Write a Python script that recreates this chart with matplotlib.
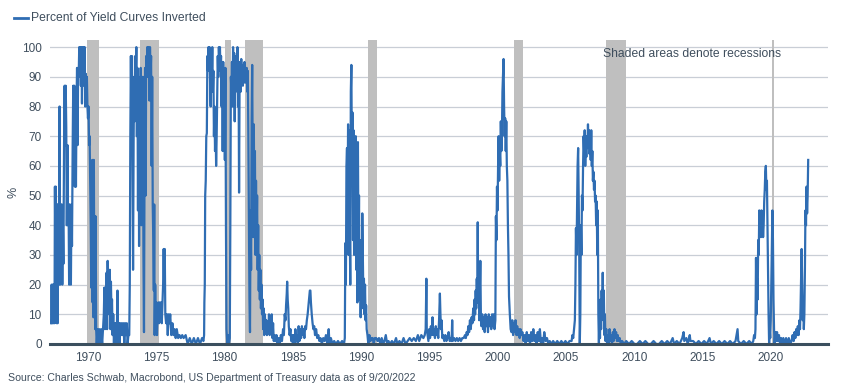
import matplotlib
matplotlib.use("Agg")
import matplotlib.pyplot as plt
import numpy as np

# percent of yield curves inverted as (decimal year, %)
era_1967 = [(1967.30, 7), (1967.34, 20), (1967.38, 7), (1967.42, 20), (1967.46, 7), (1967.50, 20), (1967.55, 7),
	(1967.58, 53), (1967.62, 27), (1967.65, 53), (1967.68, 20), (1967.71, 7), (1967.74, 47), (1967.78, 7),
	(1967.82, 47), (1967.86, 20), (1967.92, 80), (1967.96, 20), (1968.00, 47), (1968.04, 27), (1968.08, 47),
	(1968.12, 20), (1968.16, 40), (1968.20, 27), (1968.25, 67), (1968.29, 87), (1968.33, 67), (1968.37, 87),
	(1968.41, 73), (1968.45, 40), (1968.50, 67), (1968.54, 40), (1968.58, 47), (1968.62, 20), (1968.66, 47),
	(1968.70, 33), (1968.75, 20), (1968.79, 47), (1968.83, 33), (1968.88, 67), (1968.92, 87), (1968.96, 73),
	(1969.00, 87), (1969.04, 53), (1969.08, 80), (1969.12, 53), (1969.16, 80), (1969.20, 93), (1969.24, 67),
	(1969.28, 93), (1969.32, 90), (1969.36, 100), (1969.40, 93), (1969.44, 100), (1969.48, 87), (1969.52, 100),
	(1969.56, 81), (1969.60, 100), (1969.64, 87), (1969.68, 100), (1969.72, 93), (1969.76, 100), (1969.80, 80),
	(1969.84, 91), (1969.88, 87), (1969.92, 90), (1969.96, 80), (1970.00, 76), (1970.04, 80), (1970.08, 67),
	(1970.12, 70), (1970.16, 55), (1970.20, 40), (1970.24, 19), (1970.28, 30), (1970.31, 62), (1970.34, 14),
	(1970.37, 62), (1970.40, 9), (1970.43, 62), (1970.46, 20), (1970.50, 43), (1970.53, 5), (1970.56, 43),
	(1970.60, 5), (1970.64, 0), (1970.70, 5), (1970.76, 0), (1970.82, 5), (1970.90, 0), (1970.96, 5),
	(1971.04, 0), (1971.10, 5)]

era_1971 = [(1971.16, 10), (1971.20, 19), (1971.24, 5), (1971.28, 19), (1971.32, 10), (1971.36, 24), (1971.40, 5),
	(1971.44, 28), (1971.48, 15), (1971.52, 24), (1971.56, 10), (1971.60, 25), (1971.64, 5), (1971.68, 21),
	(1971.72, 10), (1971.76, 15), (1971.80, 3), (1971.85, 10), (1971.90, 0), (1971.95, 7), (1972.00, 3),
	(1972.05, 7), (1972.10, 0), (1972.16, 18), (1972.20, 3), (1972.26, 7), (1972.30, 0), (1972.36, 7),
	(1972.42, 3), (1972.48, 7), (1972.54, 3), (1972.60, 7), (1972.66, 0), (1972.72, 7), (1972.78, 3),
	(1972.84, 7), (1972.90, 0), (1972.96, 3), (1973.02, 3)]

era_1973 = [(1973.06, 20), (1973.10, 70), (1973.14, 97), (1973.18, 75), (1973.22, 97), (1973.26, 60), (1973.30, 25),
	(1973.34, 68), (1973.38, 90), (1973.42, 75), (1973.46, 97), (1973.50, 88), (1973.54, 100), (1973.58, 70),
	(1973.62, 93), (1973.66, 45), (1973.70, 90), (1973.74, 33), (1973.78, 85), (1973.82, 55), (1973.86, 93),
	(1973.90, 40), (1973.94, 88), (1973.98, 60), (1974.02, 90), (1974.06, 30), (1974.10, 4), (1974.14, 60),
	(1974.18, 93), (1974.22, 50), (1974.26, 97), (1974.30, 90), (1974.34, 100), (1974.38, 90), (1974.42, 100),
	(1974.46, 93), (1974.50, 82), (1974.54, 100), (1974.58, 90), (1974.62, 97), (1974.66, 60), (1974.70, 90),
	(1974.74, 47), (1974.78, 35), (1974.82, 18), (1974.85, 47), (1974.88, 3), (1974.92, 20), (1974.96, 7),
	(1975.00, 14), (1975.05, 3), (1975.10, 10), (1975.15, 14), (1975.20, 7), (1975.25, 14), (1975.30, 10),
	(1975.35, 14), (1975.40, 7), (1975.45, 14), (1975.50, 20), (1975.54, 32), (1975.58, 20), (1975.62, 32),
	(1975.66, 10), (1975.72, 7), (1975.78, 10), (1975.84, 3), (1975.90, 10), (1975.96, 7), (1976.02, 10),
	(1976.10, 3), (1976.18, 7), (1976.26, 3), (1976.34, 5), (1976.42, 2), (1976.50, 5), (1976.60, 2),
	(1976.70, 3), (1976.80, 2), (1976.90, 3), (1977.00, 2), (1977.15, 3), (1977.30, 0), (1977.45, 2),
	(1977.60, 0), (1977.75, 2), (1977.90, 0), (1978.05, 2), (1978.20, 0), (1978.35, 2), (1978.45, 1)]

era_1978 = [(1978.50, 3), (1978.52, 14), (1978.55, 20), (1978.58, 50), (1978.62, 55), (1978.66, 70), (1978.70, 71),
	(1978.74, 97), (1978.78, 92), (1978.82, 100), (1978.86, 93), (1978.90, 100), (1978.94, 88), (1978.98, 80),
	(1979.02, 97), (1979.06, 90), (1979.10, 100), (1979.14, 85), (1979.18, 92), (1979.22, 70), (1979.26, 80),
	(1979.30, 65), (1979.34, 75), (1979.38, 60), (1979.42, 70), (1979.46, 85), (1979.50, 97), (1979.54, 90),
	(1979.58, 100), (1979.62, 95), (1979.66, 100), (1979.70, 92), (1979.74, 97), (1979.78, 80), (1979.82, 95),
	(1979.86, 65), (1979.90, 95), (1979.94, 75), (1979.98, 92), (1980.02, 62), (1980.06, 93), (1980.10, 40),
	(1980.14, 5), (1980.20, 0), (1980.26, 3), (1980.32, 0), (1980.38, 2), (1980.42, 40), (1980.46, 90),
	(1980.50, 85), (1980.54, 95), (1980.58, 80), (1980.62, 100), (1980.66, 88), (1980.70, 98), (1980.74, 75),
	(1980.78, 95), (1980.82, 85), (1980.86, 97), (1980.90, 90), (1980.94, 100), (1980.98, 80), (1981.02, 95),
	(1981.06, 51), (1981.10, 90), (1981.14, 95), (1981.18, 85), (1981.22, 96), (1981.26, 88), (1981.30, 94),
	(1981.34, 87), (1981.38, 93), (1981.42, 90), (1981.46, 95), (1981.50, 88), (1981.54, 93), (1981.58, 90),
	(1981.62, 93), (1981.66, 85), (1981.70, 92), (1981.74, 70), (1981.78, 40), (1981.82, 15), (1981.86, 4),
	(1981.90, 45), (1981.94, 25), (1981.98, 75), (1982.02, 94), (1982.06, 60), (1982.10, 36), (1982.14, 74),
	(1982.18, 40), (1982.22, 65), (1982.26, 30), (1982.30, 55), (1982.34, 36), (1982.38, 50), (1982.42, 25),
	(1982.46, 40), (1982.50, 18), (1982.54, 30), (1982.58, 15), (1982.62, 25), (1982.66, 12), (1982.70, 20),
	(1982.74, 10), (1982.78, 15), (1982.82, 5), (1982.86, 12), (1982.90, 3), (1982.95, 10), (1983.00, 5),
	(1983.05, 8), (1983.10, 3), (1983.15, 7), (1983.20, 5), (1983.25, 10), (1983.30, 3), (1983.35, 7),
	(1983.40, 5), (1983.45, 10), (1983.50, 2), (1983.55, 7), (1983.60, 1), (1983.66, 3), (1983.72, 1),
	(1983.80, 3), (1983.88, 0), (1983.96, 2), (1984.04, 0), (1984.12, 3), (1984.20, 1), (1984.28, 5),
	(1984.34, 3), (1984.40, 10), (1984.46, 8), (1984.50, 13), (1984.55, 17), (1984.58, 21), (1984.62, 15),
	(1984.66, 12), (1984.70, 6), (1984.76, 3), (1984.82, 5), (1984.88, 1), (1984.94, 3), (1985.00, 0)]

era_1985 = [(1985.06, 3), (1985.12, 0), (1985.18, 5), (1985.24, 1), (1985.30, 3), (1985.36, 0), (1985.42, 6),
	(1985.48, 1), (1985.54, 5), (1985.60, 2), (1985.66, 6), (1985.72, 3), (1985.78, 5), (1985.84, 2),
	(1985.90, 6), (1985.96, 5), (1986.02, 8), (1986.08, 10), (1986.14, 13), (1986.20, 16), (1986.24, 18),
	(1986.28, 18), (1986.32, 14), (1986.38, 10), (1986.44, 7), (1986.50, 5), (1986.56, 6), (1986.62, 3),
	(1986.70, 5), (1986.78, 2), (1986.86, 3), (1986.94, 1), (1987.02, 2), (1987.12, 0), (1987.22, 2),
	(1987.32, 1), (1987.42, 3), (1987.52, 0), (1987.62, 5), (1987.68, 0), (1987.78, 2), (1987.90, 0),
	(1988.02, 1), (1988.15, 0), (1988.30, 1), (1988.45, 0), (1988.60, 1), (1988.74, 0)]

era_1988 = [(1988.80, 2), (1988.84, 34), (1988.88, 20), (1988.92, 60), (1988.96, 66), (1989.00, 45), (1989.04, 74),
	(1989.08, 30), (1989.12, 72), (1989.16, 40), (1989.20, 20), (1989.24, 85), (1989.28, 94), (1989.32, 60),
	(1989.36, 78), (1989.40, 35), (1989.44, 72), (1989.48, 30), (1989.52, 65), (1989.56, 40), (1989.60, 70),
	(1989.64, 25), (1989.68, 60), (1989.72, 14), (1989.76, 68), (1989.80, 30), (1989.84, 50), (1989.88, 15),
	(1989.92, 35), (1989.96, 9), (1990.00, 25), (1990.04, 12), (1990.08, 44), (1990.12, 30), (1990.16, 15),
	(1990.20, 22), (1990.24, 10), (1990.28, 20), (1990.32, 8), (1990.36, 13), (1990.40, 5), (1990.46, 3),
	(1990.52, 0), (1990.60, 3), (1990.68, 1), (1990.76, 2), (1990.84, 2), (1990.92, 0), (1991.00, 2),
	(1991.10, 2), (1991.20, 1), (1991.30, 2), (1991.40, 0), (1991.50, 2), (1991.60, 0), (1991.70, 1),
	(1991.80, 3), (1991.90, 0), (1992.00, 1), (1992.10, 0), (1992.25, 1), (1992.40, 0), (1992.55, 2),
	(1992.65, 0), (1992.80, 1), (1992.95, 0), (1993.10, 2), (1993.25, 0)]

era_1993 = [(1993.40, 1), (1993.55, 2), (1993.70, 1), (1993.85, 2), (1994.00, 1), (1994.15, 3), (1994.25, 1),
	(1994.40, 3), (1994.55, 2), (1994.65, 3), (1994.72, 5), (1994.77, 22), (1994.80, 5), (1994.86, 3),
	(1994.92, 1), (1994.98, 5), (1995.04, 2), (1995.10, 6), (1995.16, 3), (1995.22, 9), (1995.28, 3),
	(1995.34, 5), (1995.40, 2), (1995.46, 6), (1995.52, 3), (1995.58, 5), (1995.64, 2), (1995.70, 8),
	(1995.76, 17), (1995.80, 10), (1995.84, 5), (1995.88, 8), (1995.94, 2), (1996.00, 3), (1996.08, 1),
	(1996.16, 3), (1996.24, 1), (1996.32, 2), (1996.40, 4), (1996.48, 1), (1996.56, 2), (1996.62, 1),
	(1996.66, 8), (1996.70, 1), (1996.80, 2), (1996.90, 1), (1997.00, 2), (1997.10, 1), (1997.20, 2),
	(1997.30, 1), (1997.40, 2), (1997.50, 2)]

era_1997 = [(1997.60, 3), (1997.66, 2), (1997.72, 4), (1997.78, 3), (1997.84, 6), (1997.90, 4), (1997.96, 8),
	(1998.02, 5), (1998.08, 9), (1998.14, 7), (1998.20, 12), (1998.26, 8), (1998.30, 15), (1998.34, 10),
	(1998.38, 18), (1998.42, 12), (1998.46, 22), (1998.50, 14), (1998.53, 41), (1998.56, 15), (1998.60, 25),
	(1998.64, 8), (1998.68, 18), (1998.72, 28), (1998.76, 10), (1998.80, 6), (1998.86, 10), (1998.92, 5),
	(1998.98, 9), (1999.04, 4), (1999.10, 10), (1999.16, 6), (1999.22, 9), (1999.28, 4), (1999.34, 10),
	(1999.40, 6), (1999.46, 9), (1999.52, 5), (1999.58, 10), (1999.64, 6), (1999.70, 10), (1999.76, 5),
	(1999.82, 8), (1999.86, 43), (1999.90, 35), (1999.94, 53), (1999.98, 45), (2000.02, 60), (2000.06, 70),
	(2000.10, 55), (2000.14, 65), (2000.18, 60), (2000.22, 75), (2000.26, 65), (2000.30, 70), (2000.34, 85),
	(2000.38, 90), (2000.42, 96), (2000.46, 80), (2000.50, 70), (2000.54, 76), (2000.58, 65), (2000.62, 75),
	(2000.66, 60), (2000.70, 55), (2000.74, 40), (2000.78, 30), (2000.82, 16), (2000.88, 10), (2000.94, 5),
	(2001.00, 4), (2001.06, 8), (2001.12, 3), (2001.18, 7), (2001.24, 4), (2001.30, 8), (2001.36, 3),
	(2001.42, 6), (2001.48, 3), (2001.54, 5), (2001.60, 2), (2001.66, 5), (2001.72, 3), (2001.80, 4),
	(2001.88, 1), (2001.96, 3), (2002.04, 0), (2002.12, 4), (2002.20, 1), (2002.28, 3), (2002.36, 0),
	(2002.44, 4), (2002.52, 1), (2002.60, 5), (2002.68, 1), (2002.76, 3), (2002.84, 0), (2002.92, 4),
	(2003.00, 1), (2003.08, 5), (2003.16, 0), (2003.24, 2), (2003.32, 0), (2003.40, 4), (2003.50, 1),
	(2003.60, 2), (2003.70, 0), (2003.80, 1), (2003.92, 0), (2004.05, 1), (2004.20, 0), (2004.35, 1),
	(2004.50, 0), (2004.65, 1), (2004.80, 0), (2004.95, 1), (2005.10, 0), (2005.25, 1)]

era_2005 = [(2005.40, 1), (2005.46, 3), (2005.52, 2), (2005.58, 5), (2005.64, 8), (2005.68, 20), (2005.72, 39),
	(2005.76, 30), (2005.80, 45), (2005.84, 60), (2005.88, 66), (2005.92, 50), (2005.96, 30), (2006.00, 0),
	(2006.04, 10), (2006.08, 40), (2006.12, 30), (2006.16, 50), (2006.20, 45), (2006.24, 60), (2006.28, 70),
	(2006.32, 65), (2006.36, 72), (2006.40, 60), (2006.44, 68), (2006.48, 63), (2006.52, 70), (2006.56, 66),
	(2006.60, 74), (2006.64, 68), (2006.68, 72), (2006.72, 64), (2006.76, 70), (2006.80, 62), (2006.84, 72),
	(2006.88, 60), (2006.92, 65), (2006.96, 55), (2007.00, 58), (2007.04, 52), (2007.08, 55), (2007.12, 48),
	(2007.16, 50), (2007.20, 40), (2007.24, 48), (2007.28, 30), (2007.32, 45), (2007.36, 10), (2007.40, 0),
	(2007.44, 10), (2007.48, 2), (2007.52, 15), (2007.56, 5), (2007.60, 18), (2007.64, 10), (2007.68, 24),
	(2007.72, 8), (2007.76, 18), (2007.80, 3), (2007.84, 10), (2007.88, 1), (2007.94, 5), (2008.00, 0),
	(2008.06, 3), (2008.12, 0), (2008.18, 5), (2008.24, 1), (2008.30, 3), (2008.36, 0), (2008.42, 4),
	(2008.48, 1), (2008.54, 5), (2008.60, 2), (2008.66, 4), (2008.72, 1), (2008.78, 3), (2008.84, 1),
	(2008.92, 2), (2009.00, 0), (2009.10, 1), (2009.25, 0)]

era_2009 = [(2009.40, 1), (2009.60, 0), (2009.80, 1), (2010.00, 0), (2010.20, 0), (2010.40, 1), (2010.60, 0),
	(2010.80, 1), (2011.00, 0), (2011.20, 0), (2011.40, 1), (2011.60, 0), (2011.80, 0), (2012.00, 1),
	(2012.20, 0), (2012.40, 1), (2012.60, 0), (2012.80, 2), (2012.90, 0), (2013.10, 1), (2013.30, 0),
	(2013.50, 2), (2013.60, 4), (2013.65, 1), (2013.80, 2), (2013.90, 0), (2014.05, 3), (2014.10, 1),
	(2014.30, 1), (2014.50, 0), (2014.70, 1), (2014.90, 0), (2015.10, 1), (2015.30, 0), (2015.50, 2),
	(2015.60, 0), (2015.80, 1), (2016.00, 0), (2016.20, 1), (2016.40, 0), (2016.60, 1), (2016.80, 0),
	(2017.00, 1), (2017.20, 0), (2017.40, 1), (2017.55, 5), (2017.60, 1), (2017.80, 0), (2018.00, 1),
	(2018.20, 0), (2018.40, 1), (2018.60, 0)]

era_2018 = [(2018.70, 1), (2018.76, 3), (2018.82, 2), (2018.86, 5), (2018.90, 29), (2018.94, 10), (2018.98, 22),
	(2019.02, 15), (2019.06, 35), (2019.10, 30), (2019.14, 45), (2019.18, 37), (2019.22, 44), (2019.26, 36),
	(2019.30, 45), (2019.34, 38), (2019.38, 42), (2019.42, 36), (2019.46, 40), (2019.50, 48), (2019.54, 52),
	(2019.58, 58), (2019.62, 60), (2019.66, 52), (2019.70, 55), (2019.74, 40), (2019.78, 25), (2019.82, 10),
	(2019.86, 0), (2019.90, 5), (2019.94, 2), (2019.98, 8), (2020.02, 20), (2020.06, 30), (2020.10, 45),
	(2020.14, 35), (2020.18, 15), (2020.22, 5), (2020.26, 0), (2020.32, 4), (2020.38, 1), (2020.44, 4),
	(2020.50, 1), (2020.58, 3), (2020.66, 0), (2020.74, 2), (2020.82, 0), (2020.90, 2), (2021.00, 0),
	(2021.10, 2), (2021.20, 0), (2021.30, 2), (2021.40, 0), (2021.50, 1), (2021.58, 3), (2021.66, 1),
	(2021.72, 4), (2021.78, 2), (2021.84, 5), (2021.90, 3), (2021.96, 6), (2022.02, 3), (2022.08, 8),
	(2022.12, 5), (2022.16, 12), (2022.20, 22), (2022.24, 32), (2022.28, 20), (2022.32, 8), (2022.36, 15),
	(2022.40, 5), (2022.44, 10), (2022.48, 25), (2022.52, 45), (2022.56, 40), (2022.60, 53), (2022.64, 44),
	(2022.68, 50), (2022.72, 62)]

# US recessions (NBER), decimal years
rec_start = [1969.92, 1973.83, 1980.00, 1981.50, 1990.50, 2001.17, 2007.92, 2020.08]
rec_end = [1970.83, 1975.17, 1980.50, 1982.83, 1991.17, 2001.83, 2009.42, 2020.22]

tick_years = [1970, 1975, 1980, 1985, 1990, 1995, 2000, 2005, 2010, 2015, 2020]

series_label = "Percent of Yield Curves Inverted"
note = "Shaded areas denote recessions"
source = "Source: Charles Schwab, Macrobond, US Department of Treasury data as of 9/20/2022"

LINE = "#2f6db3"
TEXT = "#3f4e5d"
GRID = "#c9ced6"
SHADE = "#bfbfbf"

plt.rcParams['font.family'] = ['Liberation Sans', 'DejaVu Sans']

pairs = era_1967 + era_1971 + era_1973 + era_1978 + era_1985 + era_1988 + era_1993 + era_1997 + era_2005 + era_2009 + era_2018
years = np.array([p[0] for p in pairs])
pct = np.array([p[1] for p in pairs])

fig = plt.figure(figsize=(8.41, 3.92), dpi=100)
ax = fig.add_axes([50 / 841, 1 - 344 / 392, 778 / 841, 304 / 392])

for s, e in zip(rec_start, rec_end):
	ax.axvspan(s, e, color=SHADE, lw=0, zorder=1)

ax.plot(years, pct, color=LINE, lw=1.6, zorder=3)

ax.set_xlim(1967.22, 2024.17)
ax.set_ylim(0, 102.4)
ax.set_yticks(range(0, 101, 10))
ax.set_xticks(tick_years)
ax.grid(True, axis='y', color=GRID, lw=0.9, zorder=0)
ax.set_axisbelow(True)

for side in ['top', 'right', 'left']:
	ax.spines[side].set_visible(False)
ax.spines['bottom'].set_color('#3b4f5e')
ax.spines['bottom'].set_linewidth(2.2)
ax.spines['bottom'].set_zorder(4)
ax.tick_params(axis='both', length=0, labelsize=8.5, labelcolor=TEXT)
ax.tick_params(axis='x', pad=6)
ax.tick_params(axis='y', pad=6)
ax.set_ylabel('%', color=TEXT, fontsize=9, labelpad=2)

ax.text(0.711, 0.955, note, transform=ax.transAxes, ha='left', va='center', fontsize=8.7, color=TEXT)

fig.lines.append(plt.Line2D([14 / 841, 28 / 841], [1 - 18 / 392, 1 - 18 / 392], color=LINE, lw=2, transform=fig.transFigure))
fig.text(31 / 841, 1 - 18 / 392, series_label, ha='left', va='center', fontsize=8.7, color=TEXT)
fig.text(8 / 841, 1 - 378 / 392, source, ha='left', va='center', fontsize=7.6, color=TEXT)

plt.savefig('out.png', dpi=100)
